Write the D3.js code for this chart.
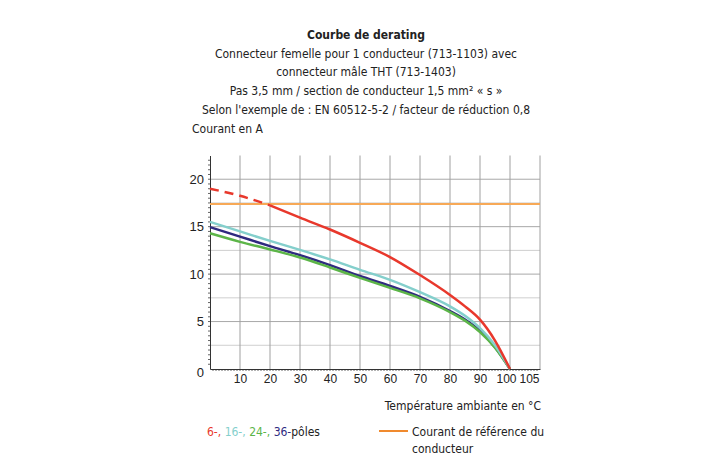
<!DOCTYPE html>
<html>
<head>
<meta charset="utf-8">
<script src="https://cdn.jsdelivr.net/npm/d3@7"></script>
<style>
  body { margin: 0; background: #fff; }
  svg text { font-family: "DejaVu Sans Condensed", "DejaVu Sans", sans-serif; font-stretch: condensed; fill: #222; }
</style>
</head>
<body>
<svg id="chart"></svg>
<script>
// titles
const titleLines = [
    "Courbe de derating",
    "Connecteur femelle pour 1 conducteur (713-1103) avec",
    "connecteur mâle THT (713-1403)",
    "Pas 3,5 mm / section de conducteur 1,5 mm² « s »",
    "Selon l'exemple de : EN 60512-5-2 / facteur de réduction 0,8"
];

// data
const temps = [0, 10, 20, 30, 40, 50, 60, 70, 80, 85, 90, 95, 100];
const pole6 = [19.0, 18.25, 17.25, 15.95, 14.7, 13.3, 11.8, 9.9, 7.8, 6.6, 5.2, 3.0, 0];
const pole16 = [15.5, 14.5, 13.5, 12.55, 11.55, 10.45, 9.4, 8.1, 6.6, 5.6, 4.3, 2.5, 0];
const pole24 = [14.3, 13.4, 12.6, 11.75, 10.7, 9.6, 8.55, 7.45, 6.0, 5.1, 3.9, 2.25, 0];
const pole36 = [14.95, 13.95, 12.95, 12.0, 10.95, 9.8, 8.75, 7.6, 6.1, 5.2, 4.0, 2.3, 0];
const refCurrent = 17.4;
const dashedUntil = 20;   // 6-pole curve is dashed above the reference current

const xTicks = [10, 20, 30, 40, 50, 60, 70, 80, 90, 100, 105];
const yTicks = [0, 5, 10, 15, 20];

const series = [
    { name: "6-", values: pole6, color: "#e8382c" },
    { name: "16-", values: pole16, color: "#84cfcc" },
    { name: "24-", values: pole24, color: "#5cb548" },
    { name: "36-", values: pole36, color: "#2f2a7f" }
];

const width = 719, height = 457;
const fs = 12;
const svg = d3.select("#chart").attr("width", width).attr("height", height);

const x = d3.scaleLinear().domain([0, 110]).range([210, 540]);
const y = d3.scaleLinear().domain([0, 22.5]).range([369, 155.5]);

// title block
svg.selectAll(".title")
    .data(titleLines)
    .join("text")
    .attr("class", "title")
    .attr("x", 366)
    .attr("y", (d, i) => 39 + i * 18.7)
    .attr("text-anchor", "middle")
    .attr("font-size", fs)
    .attr("font-weight", (d, i) => i === 0 ? "bold" : "normal")
    .text(d => d);

svg.append("text")
    .attr("x", 192)
    .attr("y", 133)
    .attr("font-size", fs)
    .text("Courant en A");

// grid
const grid = svg.append("g");
grid.selectAll(".hgrid")
    .data(d3.range(2.5, 22.5, 2.5))
    .join("line")
    .attr("x1", x(0)).attr("x2", x(110))
    .attr("y1", d => y(d)).attr("y2", d => y(d))
    .attr("stroke", d => d % 5 === 0 ? "#a8a8a8" : "#cfcfcf")
    .attr("stroke-width", 1);

grid.selectAll(".vgrid")
    .data(d3.range(10, 111, 10))
    .join("line")
    .attr("x1", d => x(d)).attr("x2", d => x(d))
    .attr("y1", y(0)).attr("y2", y(22.5))
    .attr("stroke", "#a0a0a0")
    .attr("stroke-width", 1);

// minor ticks
svg.append("g").selectAll("line")
    .data(d3.range(1, 110, 1))
    .join("line")
    .attr("x1", d => x(d)).attr("x2", d => x(d))
    .attr("y1", y(0)).attr("y2", y(0) + 2)
    .attr("stroke", "#666");

svg.append("g").selectAll("line")
    .data(d3.range(0.5, 22.5, 0.5))
    .join("line")
    .attr("x1", x(0) - 2).attr("x2", x(0))
    .attr("y1", d => y(d)).attr("y2", d => y(d))
    .attr("stroke", "#666");

// axes
const xAxis = svg.append("g")
    .attr("transform", `translate(0, ${y(0)})`)
    .call(d3.axisBottom(x).tickValues(xTicks).tickSize(0).tickPadding(5));
xAxis.select(".domain").attr("stroke", "#333");
xAxis.selectAll("text")
    .attr("font-size", fs)
    .attr("dx", d => d === 100 ? -4 : (d === 105 ? 4 : 0))
    .style("font-family", "inherit");

const yAxis = svg.append("g")
    .attr("transform", `translate(${x(0)}, 0)`)
    .call(d3.axisLeft(y).tickValues(yTicks).tickSize(0).tickPadding(6));
yAxis.select(".domain").attr("stroke", "#333");
yAxis.selectAll("text")
    .attr("font-size", 13)
    .attr("dy", d => d === 0 ? "0.6em" : "0.32em")
    .style("font-family", "inherit");

// reference current
svg.append("line")
    .attr("x1", x(0)).attr("x2", x(110))
    .attr("y1", y(refCurrent)).attr("y2", y(refCurrent))
    .attr("stroke", "#f7a957")
    .attr("stroke-width", 2);

// derating curves
const line = d3.line()
    .x(d => x(d[0]))
    .y(d => y(d[1]))
    .curve(d3.curveMonotoneX);

series.slice().reverse().forEach(s => {
    const pts = temps.map((t, i) => [t, s.values[i]]);
    if (s.name === "6-") {
        svg.append("path")
            .attr("d", line(pts.filter(p => p[0] <= dashedUntil)))
            .attr("fill", "none")
            .attr("stroke", s.color)
            .attr("stroke-width", 2.5)
            .attr("stroke-dasharray", "9,6");
        svg.append("path")
            .attr("d", line(pts.filter(p => p[0] >= dashedUntil)))
            .attr("fill", "none")
            .attr("stroke", s.color)
            .attr("stroke-width", 2.5);
    } else {
        svg.append("path")
            .attr("d", line(pts))
            .attr("fill", "none")
            .attr("stroke", s.color)
            .attr("stroke-width", 2.5);
    }
});

// axis title
svg.append("text")
    .attr("x", 541)
    .attr("y", 410)
    .attr("text-anchor", "end")
    .attr("font-size", fs)
    .text("Température ambiante en °C");

// legend
const leg = svg.append("text")
    .attr("x", 207)
    .attr("y", 436)
    .attr("font-size", fs);
series.forEach((s, i) => {
    leg.append("tspan").attr("fill", s.color).text(s.name);
    if (i < series.length - 1) leg.append("tspan").attr("fill", s.color).text(", ");
});
leg.append("tspan").text("pôles");

svg.append("line")
    .attr("x1", 379).attr("x2", 408)
    .attr("y1", 431).attr("y2", 431)
    .attr("stroke", "#f08a2e")
    .attr("stroke-width", 2);

svg.append("text")
    .attr("x", 412)
    .attr("y", 436)
    .attr("font-size", fs)
    .text("Courant de référence du");
svg.append("text")
    .attr("x", 412)
    .attr("y", 453)
    .attr("font-size", fs)
    .text("conducteur");
</script>
</body>
</html>
